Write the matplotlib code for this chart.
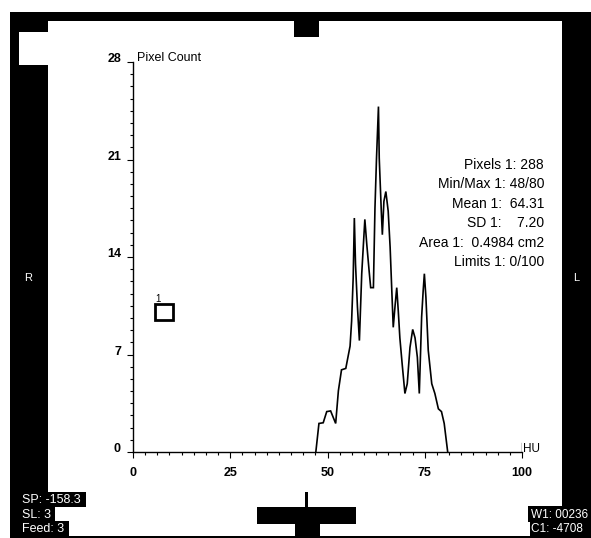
import matplotlib
matplotlib.use("Agg")
import matplotlib.pyplot as plt
from matplotlib.patches import Rectangle
from matplotlib.ticker import MultipleLocator, FixedLocator
from matplotlib.transforms import offset_copy

plt.rcParams['font.family'] = ['Liberation Sans', 'DejaVu Sans']

# ---- data ----
hu = [47.0, 47.8, 48.9, 49.8, 50.8, 52.1, 52.8, 53.6, 54.7, 55.8, 56.2, 56.6,
      56.9, 57.2, 57.7, 58.2, 58.8, 59.6, 60.1, 60.7, 61.1, 61.8, 62.2, 62.6,
      63.1, 63.3, 63.8, 64.1, 64.5, 65.0, 65.6, 66.1, 66.5, 66.9, 67.4, 67.8,
      68.2, 68.6, 69.2, 69.9, 70.5, 71.2, 71.9, 72.5, 73.1, 73.6, 74.2, 74.6,
      74.9, 75.3, 75.9, 76.8, 77.6, 78.5, 79.3, 80.0, 80.9]
count = [0.0, 2.05, 2.1, 2.9, 2.95, 2.05, 4.4, 5.9, 6.0, 7.6, 9.4, 12.5,
         16.8, 13.5, 10.4, 8.0, 12.8, 16.7, 14.9, 13.0, 11.8, 11.8, 17.5, 21.1,
         24.8, 21.1, 17.5, 15.6, 18.0, 18.7, 17.3, 14.7, 11.8, 8.95, 10.6, 11.8,
         10.1, 8.2, 6.3, 4.2, 4.9, 7.5, 8.8, 8.2, 6.8, 4.2, 9.7, 11.6,
         12.8, 11.1, 7.3, 4.9, 4.2, 3.1, 2.9, 2.05, 0.0]

x_major = [0, 25, 50, 75, 100]
y_major = [0, 7, 14, 21, 28]
y_labels = ['0', '7', '14', '21', '28']

stats_lines = ["Pixels 1: 288", "Min/Max 1: 48/80", "Mean 1:  64.31",
               "SD 1:    7.20", "Area 1:  0.4984 cm2", "Limits 1: 0/100"]
left_info = ["SP: -158.3", "SL: 3", "Feed: 3"]
right_info = ["W1: 00236", "C1: -4708"]

W, H = 591, 538
fig = plt.figure(figsize=(W / 100, H / 100), dpi=100, facecolor='white')

# background / frame in pixel coordinates
bg = fig.add_axes([0, 0, 1, 1], zorder=0)
bg.set_xlim(0, W)
bg.set_ylim(H, 0)
bg.axis('off')


def rect(x0, y0, x1, y1, color, fill=True, lw=0):
    bg.add_patch(Rectangle((x0, y0), x1 - x0, y1 - y0, facecolor=color if fill else 'none',
                           edgecolor=color if not fill else 'none', linewidth=lw))


rect(10, 12, 591, 538, 'black')
rect(48, 21, 562, 536, 'white')
rect(19, 32, 48, 65, 'white')
rect(294, 21, 319, 37, 'black')
# bottom-left info boxes
rect(10, 492, 86, 507, 'black')
rect(10, 507, 55, 521, 'black')
rect(10, 521, 69, 538, 'black')
# bottom-right info boxes
rect(528, 506, 591, 522, 'black')
rect(530, 522, 591, 538, 'black')
# bottom centre marker
rect(305, 492, 308, 508, 'black')
rect(257, 507, 356, 524, 'black')
rect(295, 524, 320, 538, 'black')
# ROI icon
rect(155, 304, 173, 320, 'black', fill=False, lw=2.0)
bg.text(155, 302, '1', fontsize=7, ha='left', va='baseline', color='black')

# side letters
bg.text(28, 278, 'R', color='white', fontsize=8, ha='center', va='center')
bg.text(576, 278, 'L', color='white', fontsize=8, ha='center', va='center')

for i, s in enumerate(left_info):
    bg.text(22, 500 + 14.5 * i, s, color='white', fontsize=9, ha='left', va='center')
for i, s in enumerate(right_info):
    bg.text(531, 515 + 14.5 * i, s, color='white', fontsize=8.5, ha='left', va='center')

# stats block
for i, s in enumerate(stats_lines):
    bg.text(544, 169 + 19.4 * i, s, fontsize=10, ha='right', va='baseline', color='black')

bg.text(137, 61, 'Pixel Count', fontsize=9, ha='left', va='baseline', color='black')
bg.text(523, 452, 'HU', fontsize=8.5, ha='left', va='baseline', color='black')

# ---- chart axes ----
x0, x1 = 133, 522
y0, y1 = 452, 62
ax = fig.add_axes([x0 / W, 1 - y0 / H, (x1 - x0) / W, (y0 - y1) / H], zorder=2)
ax.patch.set_alpha(0)
ax.set_xlim(0, 100)
ax.set_ylim(0, 28)
for sp in ['top', 'right']:
    ax.spines[sp].set_visible(False)
for sp in ['left', 'bottom']:
    ax.spines[sp].set_linewidth(1.0)

ax.plot(hu, count, color='black', lw=1.2, solid_joinstyle='miter', clip_on=False)

ax.xaxis.set_major_locator(FixedLocator(x_major))
ax.xaxis.set_minor_locator(MultipleLocator(3.125))
ax.set_xticklabels([str(v) for v in x_major], fontsize=9, fontweight='bold')
ax.tick_params(axis='x', which='major', direction='out', length=4, width=0.8, pad=7)
ax.tick_params(axis='x', which='minor', direction='out', length=2.5, width=0.8)
ax.axvline(100, 0, 0.023, color='black', lw=1.0)

ax.yaxis.set_major_locator(FixedLocator(y_major))
ax.yaxis.set_minor_locator(MultipleLocator(0.875))
ax.set_yticklabels([])
ax.tick_params(axis='y', which='major', direction='out', length=4.3, width=0.8)
ax.tick_params(axis='y', which='minor', direction='out', length=2.5, width=0.8)

ytr = offset_copy(ax.get_yaxis_transform(), fig=fig, x=-12, y=0, units='dots')
for v, lab in zip(y_major, y_labels):
    ax.text(0, v, lab, transform=ytr, ha='right', va='baseline', fontsize=9,
            fontweight='bold', clip_on=False)

fig.savefig('out.png', dpi=100, facecolor='white')
